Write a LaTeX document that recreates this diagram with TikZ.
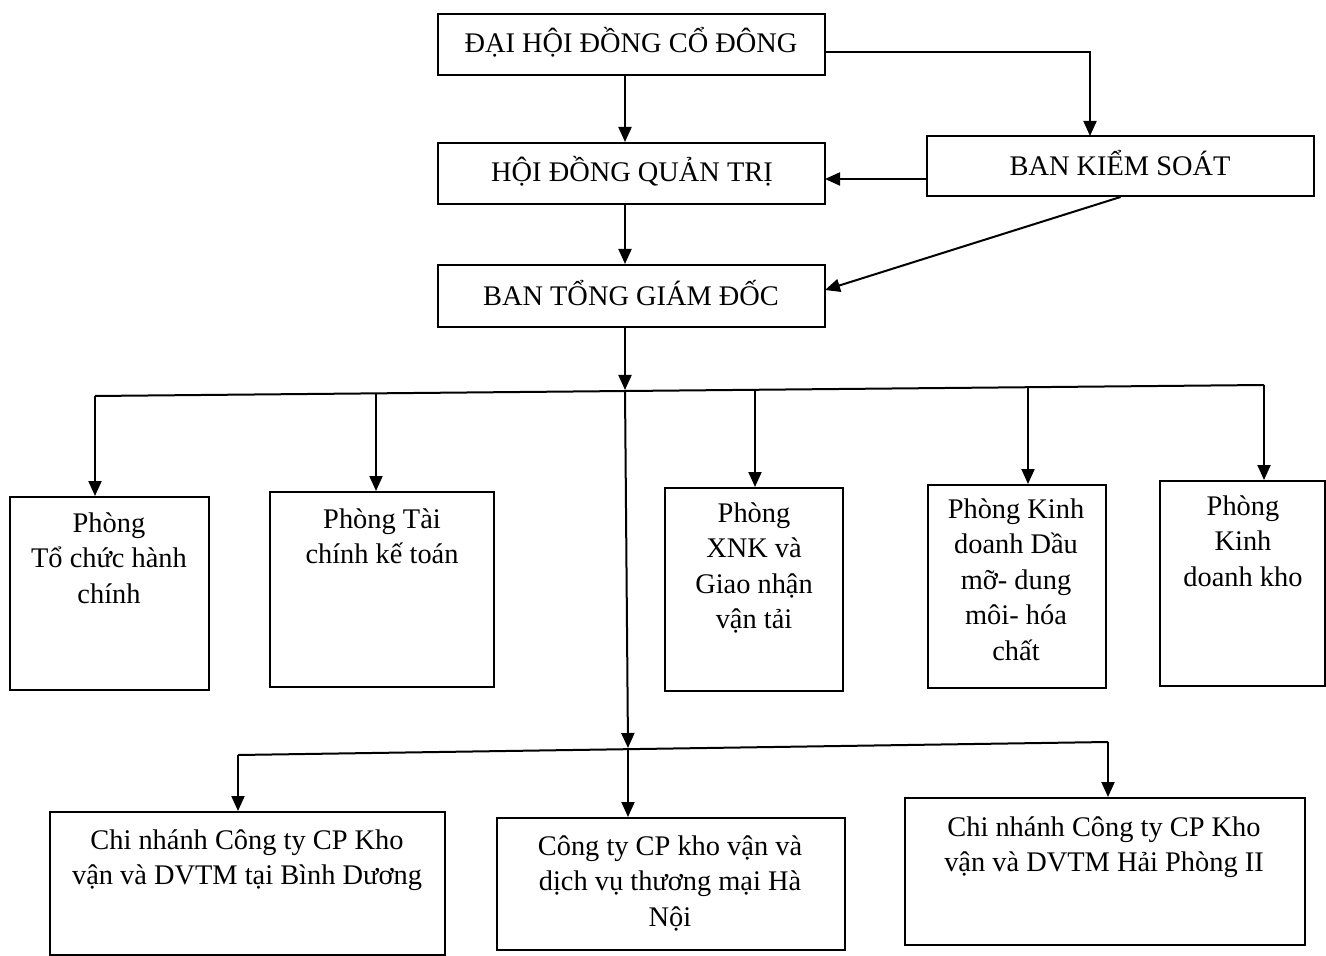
\documentclass[tikz,border=0pt]{standalone}
\usepackage{fontspec}
\setmainfont{Liberation Serif}
\usetikzlibrary{arrows.meta,fit}
\begin{document}
\begin{tikzpicture}[x=0.5pt,y=-0.5pt,
  box/.style={draw, line width=1pt, inner sep=0pt},
  txt/.style={align=center, inner sep=0pt, font=\fontsize{14.2}{17.8}\selectfont},
  arr/.style={line width=1pt, -{Triangle[length=7.5pt,width=6.5pt]}},
  ln/.style={line width=1pt}]
\useasboundingbox (0,0) rectangle (1326,956);

% top boxes
\node[box, fit={(438,14)(825,75)}] (dh) {};
\node[txt] (dht) at (631,42) {ĐẠI HỘI ĐỒNG CỔ ĐÔNG};
\node[box, fit={(438,143)(825,204)}] (hd) {};
\node[txt] (hdt) at (632,171) {HỘI ĐỒNG QUẢN TRỊ};
\node[box, fit={(438,265)(825,327)}] (bt) {};
\node[txt] (btt) at (631,293) {BAN TỔNG GIÁM ĐỐC};
\node[box, fit={(927,136)(1314,196)}] (bk) {};
\node[txt] (bkt) at (1120,163) {BAN KIỂM SOÁT};

% middle boxes
\node[box, fit={(10,497)(209,690)}] (m1) {};
\node[txt, anchor=north] (m1t) at (109,512) {Phòng\\Tổ chức hành\\chính};
\node[box, fit={(270,492)(494,687)}] (m2) {};
\node[txt, anchor=north] (m2t) at (382,508) {Phòng Tài\\chính kế toán};
\node[box, fit={(665,488)(843,691)}] (m3) {};
\node[txt, anchor=north] (m3t) at (754,502) {Phòng\\XNK và\\Giao nhận\\vận tải};
\node[box, fit={(928,485)(1106,688)}] (m4) {};
\node[txt, anchor=north] (m4t) at (1016,498) {Phòng Kinh\\doanh Dầu\\mỡ- dung\\môi- hóa\\chất};
\node[box, fit={(1160,481)(1325,686)}] (m5) {};
\node[txt, anchor=north] (m5t) at (1243,495) {Phòng\\Kinh\\doanh kho};

% bottom boxes
\node[box, fit={(50,812)(445,955)}] (b1) {};
\node[txt, anchor=north] (b1t) at (247,829) {Chi nhánh Công ty CP Kho\\vận và DVTM tại Bình Dương};
\node[box, fit={(497,818)(845,950)}] (b2) {};
\node[txt, anchor=north] (b2t) at (670,835) {Công ty CP kho vận và\\dịch vụ thương mại Hà\\Nội};
\node[box, fit={(905,798)(1305,945)}] (b3) {};
\node[txt, anchor=north] (b3t) at (1104,816) {Chi nhánh Công ty CP Kho\\vận và DVTM Hải Phòng II};

% coordinates
\coordinate (vx) at (625,0);
\coordinate (dhR) at (825,52);
\coordinate (bkTop) at (1090,136);
\coordinate (bkL) at (927,179);
\coordinate (hdR) at (825,179);
\coordinate (btR) at (825,290);
\coordinate (c1) at (625,390);
\coordinate (d1) at (95,396);
\coordinate (d2) at (376,393);
\coordinate (d3) at (755,389);
\coordinate (d4) at (1028,387);
\coordinate (d5) at (1264,385);
\coordinate (c2) at (628,748);
\coordinate (e1) at (238,755);
\coordinate (e3) at (1108,742);

% top connectors
\draw[arr] (dh.south -| vx) -- (hd.north -| vx);
\draw[arr] (hd.south -| vx) -- (bt.north -| vx);
\draw[arr] (dhR) -| (bkTop);
\draw[arr] (bkL) -- (hdR);
\draw[arr] (bk.south) -- (btR);

% middle bus
\draw[arr] (bt.south -| vx) -- (c1);
\draw[ln] (d1) -- (d5);
\draw[arr] (d1) -- (d1 |- m1.north);
\draw[arr] (d2) -- (d2 |- m2.north);
\draw[arr] (d3) -- (d3 |- m3.north);
\draw[arr] (d4) -- (d4 |- m4.north);
\draw[arr] (d5) -- (d5 |- m5.north);

% trunk and bottom bus
\draw[arr] (c1) -- (c2);
\draw[ln] (e1) -- (e3);
\draw[arr] (e1) -- (e1 |- b1.north);
\draw[arr] (c2) -- (c2 |- b2.north);
\draw[arr] (e3) -- (e3 |- b3.north);
\end{tikzpicture}
\end{document}
